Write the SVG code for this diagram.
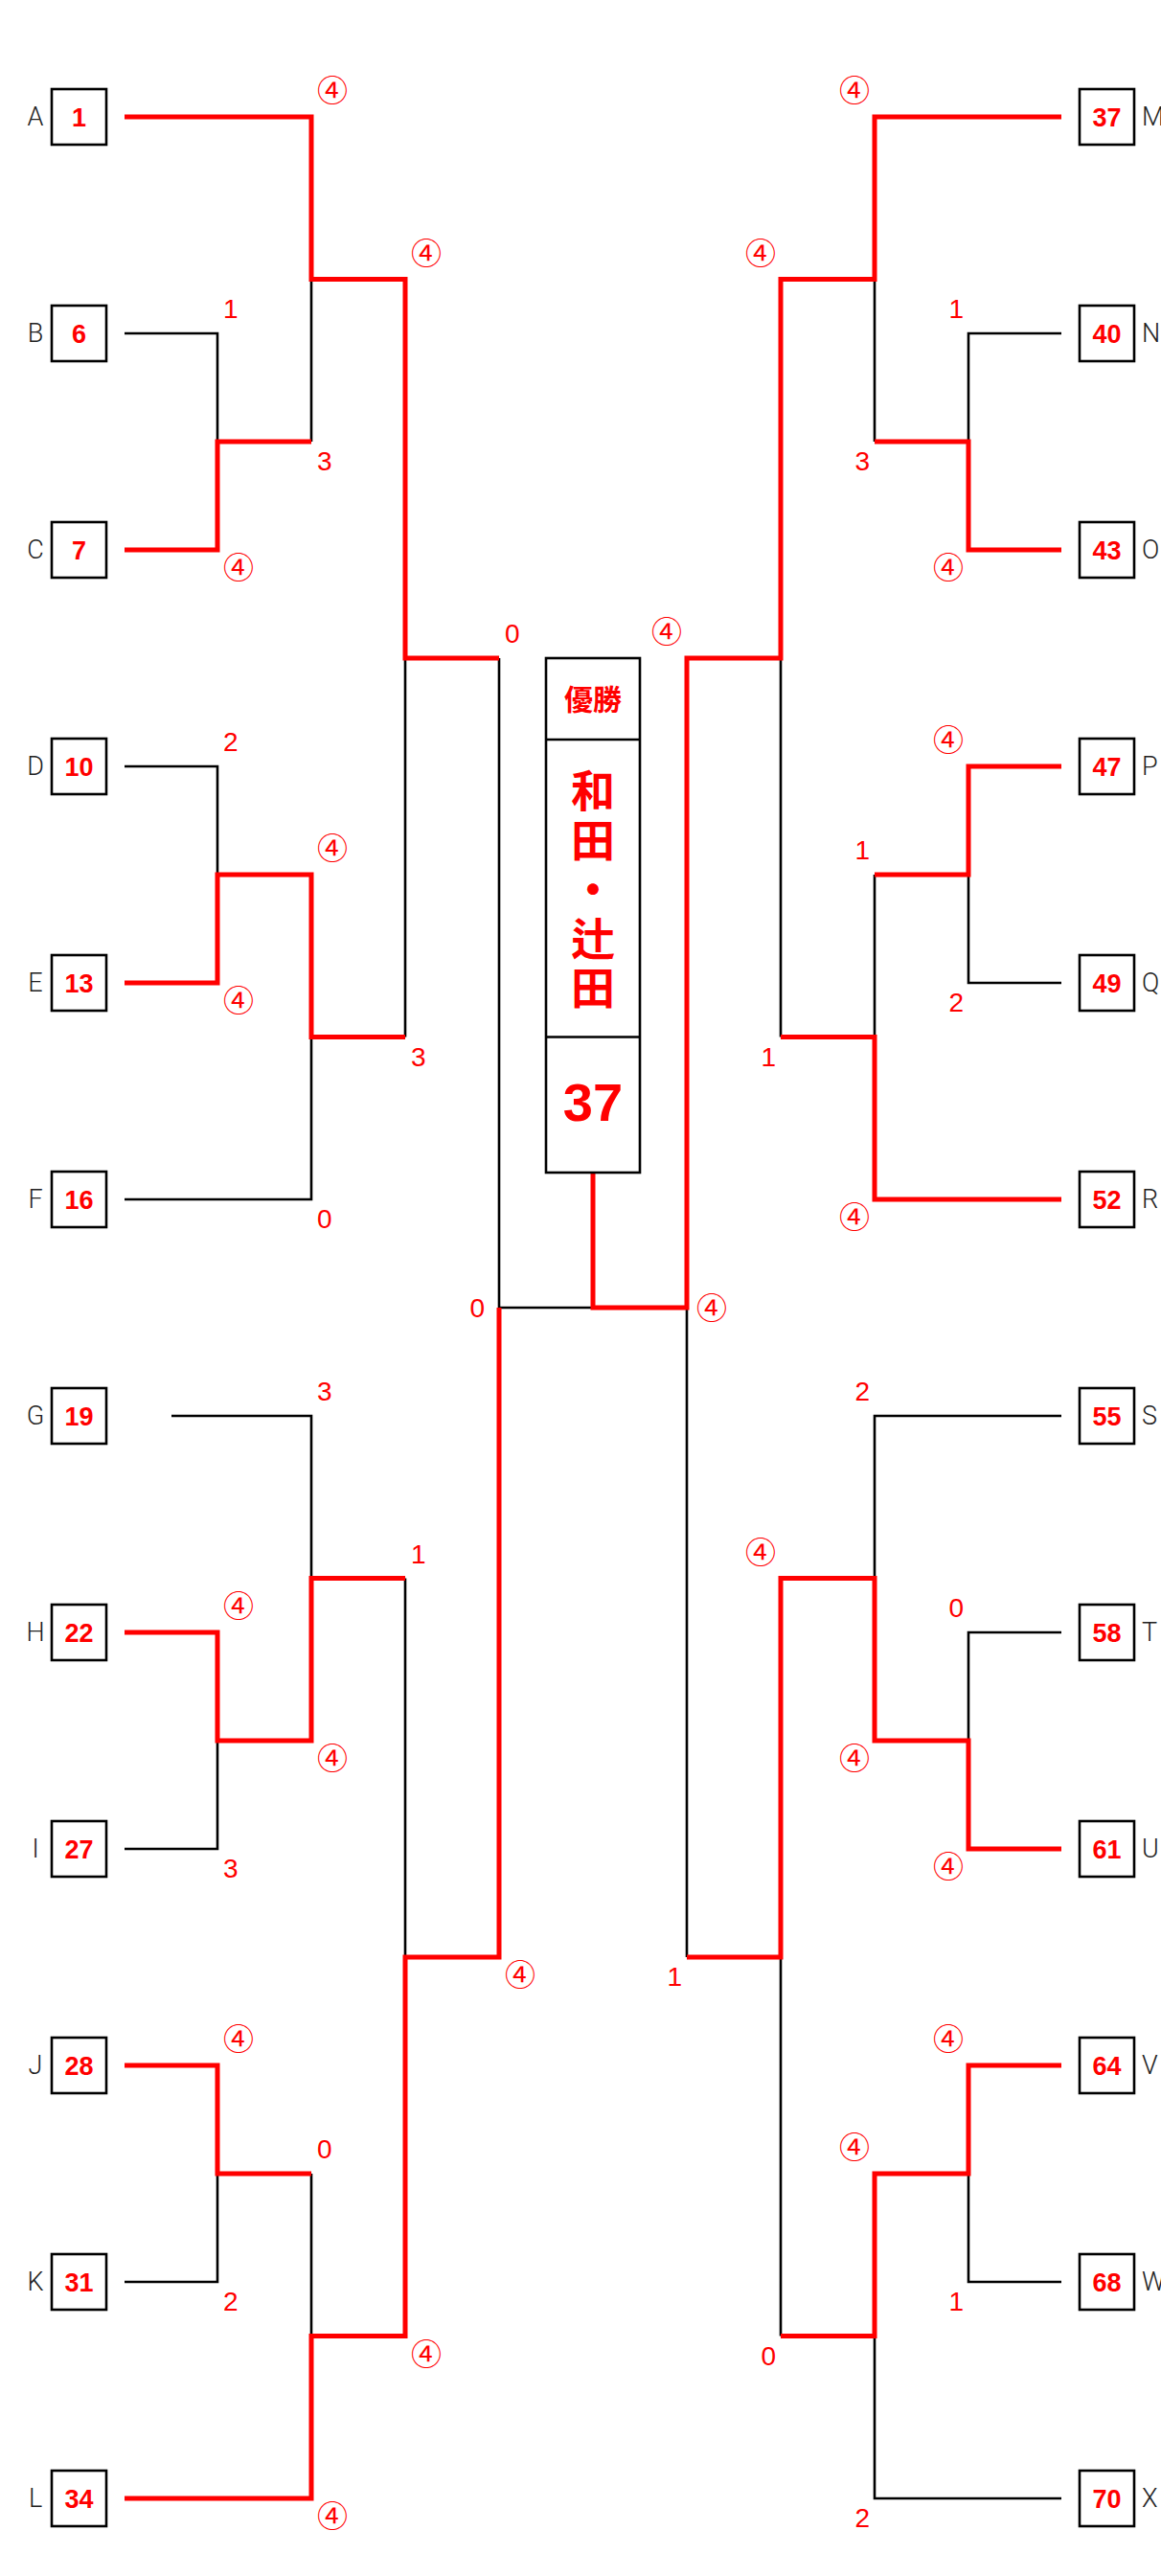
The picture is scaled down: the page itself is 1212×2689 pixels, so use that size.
<svg xmlns="http://www.w3.org/2000/svg" width="1212" height="2689" viewBox="0 0 1212 2689">
<style>
.bx{fill:#fff;stroke:#000;stroke-width:2.6}
.num{font-family:"Liberation Sans",Arial,sans-serif;font-weight:bold;font-size:27px;fill:#f00;text-anchor:middle}
.lt{font-family:Roboto,"Liberation Sans",sans-serif;font-weight:300;font-size:27px;fill:#222}
.ll{text-anchor:middle}
.sc{font-family:"Liberation Sans","Noto Sans CJK JP",sans-serif;font-size:28px;fill:#f00}
.c4{font-family:"Noto Sans CJK JP",sans-serif;font-size:32px}
.e{text-anchor:end}
.blk{fill:none;stroke:#000;stroke-width:2.6}
.red{fill:none;stroke:#f00;stroke-width:5;stroke-linejoin:miter}
.cj{font-family:"Noto Sans CJK JP",sans-serif;font-weight:bold;fill:#f00;text-anchor:middle}
</style>
<g id="connectors">
<path class="blk" d="M130,348H227V574H130M227,461H325M130,800H227V1026H130M227,913H325M130,1704H227V1930H130M227,1817H325M130,2156H227V2382H130M227,2269H325M130,122H325V461M325,291.5H423M325,913V1252H130M325,1082.5H423M179,1478H325V1817M325,1647.5H423M325,2269V2608H130M325,2438.5H423M423,291.5V1082.5M423,687H521M423,1647.5V2438.5M423,2043H521M521,687V2043M521,1365H717M619,1224V1365"/>
<path class="blk" d="M1108,348H1011V574H1108M1011,461H913M1108,800H1011V1026H1108M1011,913H913M1108,1704H1011V1930H1108M1011,1817H913M1108,2156H1011V2382H1108M1011,2269H913M1108,122H913V461M913,291.5H815M913,913V1252H1108M913,1082.5H815M1108,1478H913V1817M913,1647.5H815M913,2269V2608H1108M913,2438.5H815M815,291.5V1082.5M815,687H717M815,1647.5V2438.5M815,2043H717M717,687V2043"/>
<polyline class="red" points="130,122 325,122 325,291.5 423,291.5 423,687 521,687"/>
<polyline class="red" points="130,574 227,574 227,461 325,461"/>
<polyline class="red" points="130,1026 227,1026 227,913 325,913 325,1082.5 423,1082.5"/>
<polyline class="red" points="130,1704 227,1704 227,1817 325,1817 325,1647.5 423,1647.5"/>
<polyline class="red" points="130,2156 227,2156 227,2269 325,2269"/>
<polyline class="red" points="130,2608 325,2608 325,2438.5 423,2438.5 423,2043 521,2043 521,1365"/>
<polyline class="red" points="1108,122 913,122 913,291.5 815,291.5 815,687 717,687 717,1365 619,1365 619,1224"/>
<polyline class="red" points="1108,574 1011,574 1011,461 913,461"/>
<polyline class="red" points="1108,800 1011,800 1011,913 913,913"/>
<polyline class="red" points="1108,1252 913,1252 913,1082.5 815,1082.5"/>
<polyline class="red" points="1108,1930 1011,1930 1011,1817 913,1817 913,1647.5 815,1647.5 815,2043 717,2043"/>
<polyline class="red" points="1108,2156 1011,2156 1011,2269 913,2269 913,2438.5 815,2438.5"/>
</g>
<g id="A"><rect class="bx" x="54" y="93" width="57" height="58"/><text class="num" x="82.5" y="131.7">1</text><text class="lt ll" x="37" y="131">A</text></g>
<g id="B"><rect class="bx" x="54" y="319" width="57" height="58"/><text class="num" x="82.5" y="357.7">6</text><text class="lt ll" x="37" y="357">B</text></g>
<g id="C"><rect class="bx" x="54" y="545" width="57" height="58"/><text class="num" x="82.5" y="583.7">7</text><text class="lt ll" x="37" y="583">C</text></g>
<g id="D"><rect class="bx" x="54" y="771" width="57" height="58"/><text class="num" x="82.5" y="809.7">10</text><text class="lt ll" x="37" y="809">D</text></g>
<g id="E"><rect class="bx" x="54" y="997" width="57" height="58"/><text class="num" x="82.5" y="1035.7">13</text><text class="lt ll" x="37" y="1035">E</text></g>
<g id="F"><rect class="bx" x="54" y="1223" width="57" height="58"/><text class="num" x="82.5" y="1261.7">16</text><text class="lt ll" x="37" y="1261">F</text></g>
<g id="G"><rect class="bx" x="54" y="1449" width="57" height="58"/><text class="num" x="82.5" y="1487.7">19</text><text class="lt ll" x="37" y="1487">G</text></g>
<g id="H"><rect class="bx" x="54" y="1675" width="57" height="58"/><text class="num" x="82.5" y="1713.7">22</text><text class="lt ll" x="37" y="1713">H</text></g>
<g id="I"><rect class="bx" x="54" y="1901" width="57" height="58"/><text class="num" x="82.5" y="1939.7">27</text><text class="lt ll" x="37" y="1939">I</text></g>
<g id="J"><rect class="bx" x="54" y="2127" width="57" height="58"/><text class="num" x="82.5" y="2165.7">28</text><text class="lt ll" x="37" y="2165">J</text></g>
<g id="K"><rect class="bx" x="54" y="2353" width="57" height="58"/><text class="num" x="82.5" y="2391.7">31</text><text class="lt ll" x="37" y="2391">K</text></g>
<g id="L"><rect class="bx" x="54" y="2579" width="57" height="58"/><text class="num" x="82.5" y="2617.7">34</text><text class="lt ll" x="37" y="2617">L</text></g>
<g id="M"><rect class="bx" x="1127" y="93" width="57" height="58"/><text class="num" x="1155.5" y="131.7">37</text><text class="lt" x="1192" y="131">M</text></g>
<g id="N"><rect class="bx" x="1127" y="319" width="57" height="58"/><text class="num" x="1155.5" y="357.7">40</text><text class="lt" x="1192" y="357">N</text></g>
<g id="O"><rect class="bx" x="1127" y="545" width="57" height="58"/><text class="num" x="1155.5" y="583.7">43</text><text class="lt" x="1192" y="583">O</text></g>
<g id="P"><rect class="bx" x="1127" y="771" width="57" height="58"/><text class="num" x="1155.5" y="809.7">47</text><text class="lt" x="1192" y="809">P</text></g>
<g id="Q"><rect class="bx" x="1127" y="997" width="57" height="58"/><text class="num" x="1155.5" y="1035.7">49</text><text class="lt" x="1192" y="1035">Q</text></g>
<g id="R"><rect class="bx" x="1127" y="1223" width="57" height="58"/><text class="num" x="1155.5" y="1261.7">52</text><text class="lt" x="1192" y="1261">R</text></g>
<g id="S"><rect class="bx" x="1127" y="1449" width="57" height="58"/><text class="num" x="1155.5" y="1487.7">55</text><text class="lt" x="1192" y="1487">S</text></g>
<g id="T"><rect class="bx" x="1127" y="1675" width="57" height="58"/><text class="num" x="1155.5" y="1713.7">58</text><text class="lt" x="1192" y="1713">T</text></g>
<g id="U"><rect class="bx" x="1127" y="1901" width="57" height="58"/><text class="num" x="1155.5" y="1939.7">61</text><text class="lt" x="1192" y="1939">U</text></g>
<g id="V"><rect class="bx" x="1127" y="2127" width="57" height="58"/><text class="num" x="1155.5" y="2165.7">64</text><text class="lt" x="1192" y="2165">V</text></g>
<g id="W"><rect class="bx" x="1127" y="2353" width="57" height="58"/><text class="num" x="1155.5" y="2391.7">68</text><text class="lt" x="1192" y="2391">W</text></g>
<g id="X"><rect class="bx" x="1127" y="2579" width="57" height="58"/><text class="num" x="1155.5" y="2617.7">70</text><text class="lt" x="1192" y="2617">X</text></g>
<g id="champion">
<rect class="bx" x="570" y="687" width="98" height="537"/>
<path class="blk" d="M570,772H668M570,1082.5H668"/>
<text class="cj" x="619" y="741" font-size="30">優勝</text>
<text class="cj" x="619" y="930.5" font-size="46" style="writing-mode:vertical-rl;letter-spacing:5.6px">和田・辻田</text>
<text class="num" x="619" y="1170" style="font-size:56px">37</text>
</g>
<g id="scores">
<text class="sc" x="233" y="332">1</text>
<text class="sc c4" x="233" y="604">④</text>
<text class="sc" x="233" y="784">2</text>
<text class="sc c4" x="233" y="1056">④</text>
<text class="sc c4" x="233" y="1688">④</text>
<text class="sc" x="233" y="1960">3</text>
<text class="sc c4" x="233" y="2140">④</text>
<text class="sc" x="233" y="2412">2</text>
<text class="sc c4" x="331" y="106">④</text>
<text class="sc" x="331" y="491">3</text>
<text class="sc c4" x="331" y="897">④</text>
<text class="sc" x="331" y="1282">0</text>
<text class="sc" x="331" y="1462">3</text>
<text class="sc c4" x="331" y="1847">④</text>
<text class="sc" x="331" y="2253">0</text>
<text class="sc c4" x="331" y="2638">④</text>
<text class="sc c4" x="429" y="275.5">④</text>
<text class="sc" x="429" y="1112.5">3</text>
<text class="sc" x="429" y="1631.5">1</text>
<text class="sc c4" x="429" y="2468.5">④</text>
<text class="sc" x="527" y="671">0</text>
<text class="sc c4" x="527" y="2073">④</text>
<text class="sc e" x="506" y="1375">0</text>
<text class="sc c4" x="727" y="1377">④</text>
<text class="sc e" x="1006" y="332">1</text>
<text class="sc c4 e" x="1006" y="604">④</text>
<text class="sc c4 e" x="1006" y="784">④</text>
<text class="sc e" x="1006" y="1056">2</text>
<text class="sc e" x="1006" y="1688">0</text>
<text class="sc c4 e" x="1006" y="1960">④</text>
<text class="sc c4 e" x="1006" y="2140">④</text>
<text class="sc e" x="1006" y="2412">1</text>
<text class="sc c4 e" x="908" y="106">④</text>
<text class="sc e" x="908" y="491">3</text>
<text class="sc e" x="908" y="897">1</text>
<text class="sc c4 e" x="908" y="1282">④</text>
<text class="sc e" x="908" y="1462">2</text>
<text class="sc c4 e" x="908" y="1847">④</text>
<text class="sc c4 e" x="908" y="2253">④</text>
<text class="sc e" x="908" y="2638">2</text>
<text class="sc c4 e" x="810" y="275.5">④</text>
<text class="sc e" x="810" y="1112.5">1</text>
<text class="sc c4 e" x="810" y="1631.5">④</text>
<text class="sc e" x="810" y="2468.5">0</text>
<text class="sc c4 e" x="712" y="671">④</text>
<text class="sc e" x="712" y="2073">1</text>
</g>
</svg>
